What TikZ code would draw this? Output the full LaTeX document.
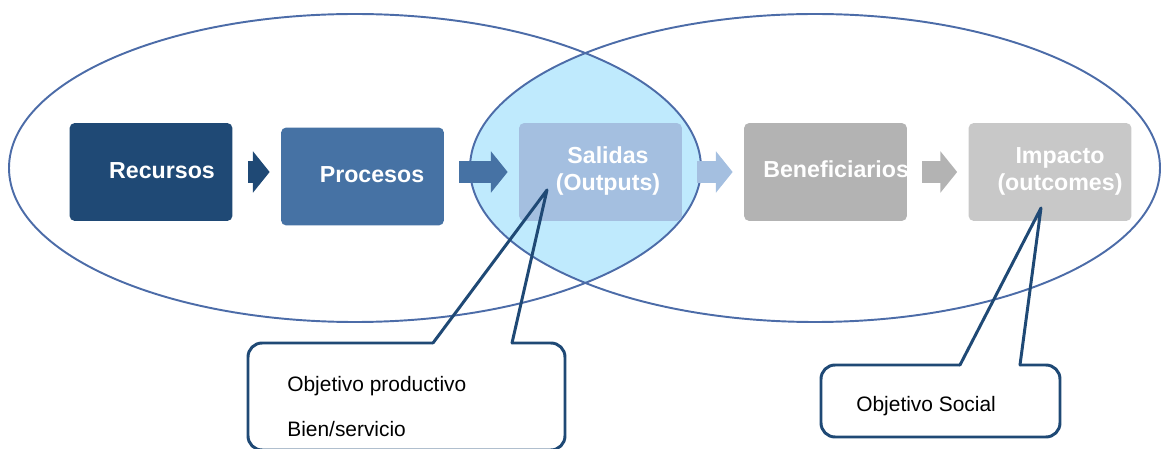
\documentclass[tikz,border=0pt]{standalone}
\usepackage{fontspec}
\setmainfont{Liberation Sans}
\usepackage{tikz}
\usetikzlibrary{arrows.meta,positioning}
\definecolor{recursos}{RGB}{31,73,117}
\definecolor{procesos}{RGB}{70,114,164}
\definecolor{salidas}{RGB}{164,191,224}
\definecolor{beneficio}{RGB}{179,179,179}
\definecolor{impacto}{RGB}{200,200,200}
\definecolor{venn}{RGB}{76,108,168}
\definecolor{venn-fill}{RGB}{191,234,253}
\tikzset{
  every picture/.style = {
    x = 0.02cm,
    y = -0.02cm,
  }
  ,
  venn-line/.style = {
    draw = venn,
    line width = 1.1pt
  }
  , % coloured boxes of the chain
  stage/.style = {
    rectangle,
    rounded corners = 3pt,
    minimum width = 3.26cm,
    minimum height = 1.96cm,
    inner sep = 0pt
  }
  , % white titles of the boxes
  stage-text/.style = {
    text = white,
    font = \fontsize{13.2}{15.4}\selectfont\bfseries,
    align = center,
    inner sep = 0pt
  }
  , % block arrows between boxes
  stage-arrow/.style = {
    line width = 12.5pt,
    -{Triangle[width=23pt,length=9.5pt]},
    shorten <= 0.3cm,
    shorten >= 0.22cm
  }
  ,
  callout/.style = {
    draw = recursos,
    line width = 1.7pt,
    line join = round,
    line cap = round
  }
  ,
  callout-text/.style = {
    font = \fontsize{11.9}{14}\selectfont,
    anchor = base west,
    inner sep = 0pt
  }
}

\begin{document}
\begin{tikzpicture}
\useasboundingbox (0,0) rectangle (1161,449);
% overlap of the two sets
\begin{scope}
  \clip (355,168) ellipse [x radius=346, y radius=154];
  \fill[venn-fill] (815,168) ellipse [x radius=345, y radius=154];
\end{scope}
\draw[venn-line] (355,168) ellipse [x radius=346, y radius=154];
\draw[venn-line] (815,168) ellipse [x radius=345, y radius=154];

\node[stage, fill=recursos] (rec) at (151,172) {};
\node[stage, fill=procesos] (proc) at (362.5,176.5) {};
\node[stage, fill=salidas] (sal) at (600.5,172) {};
\node[stage, fill=beneficio] (ben) at (825.5,172) {};
\node[stage, fill=impacto] (imp) at (1050,172) {};

\node[stage-text, anchor=base] (rec-t) at (162,179) {Recursos};
\node[stage-text, anchor=base] (proc-t) at (372,183) {Procesos};
\node[stage-text] (sal-t) at (608,171) {Salidas\\(Outputs)};
\begin{scope}
  \clip[rounded corners=3pt] (ben.south west) rectangle (ben.north east);
  \node[stage-text, anchor=base west] (ben-t) at (763,178) {Beneficiarios};
\end{scope}
\node[stage-text] (imp-t) at (1060,171) {Impacto\\(outcomes)};

\foreach \a/\b/\col in {rec/proc/recursos, proc/sal/procesos, sal/ben/salidas, ben/imp/beneficio}
  \draw[stage-arrow, \col] (\a.east |- sal.center) -- (\b.west |- sal.center);

% callout of the outputs
\coordinate (tip1) at (547,190);
\coordinate (c1a) at (433,343);
\coordinate (c1b) at (512,343);
\draw[callout] (c1a) -- (tip1) -- (c1b);
\draw[callout, rounded corners=8pt] (c1b) -- (565,343) -- (565,450) -- (248,450) -- (248,343) -- (c1a);
\node[callout-text] (obj1) at (287,392) {Objetivo productivo};
\node[callout-text] (obj2) at (287,437) {Bien/servicio};

% callout of the outcomes
\coordinate (tip2) at (1041,208);
\coordinate (c2a) at (960,365);
\coordinate (c2b) at (1020,365);
\draw[callout] (c2a) -- (tip2) -- (c2b);
\draw[callout, rounded corners=8pt] (c2b) -- (1060,365) -- (1060,437) -- (821,437) -- (821,365) -- (c2a);
\node[callout-text] (obj3) at (856,412) {Objetivo Social};
\end{tikzpicture}
\end{document}
